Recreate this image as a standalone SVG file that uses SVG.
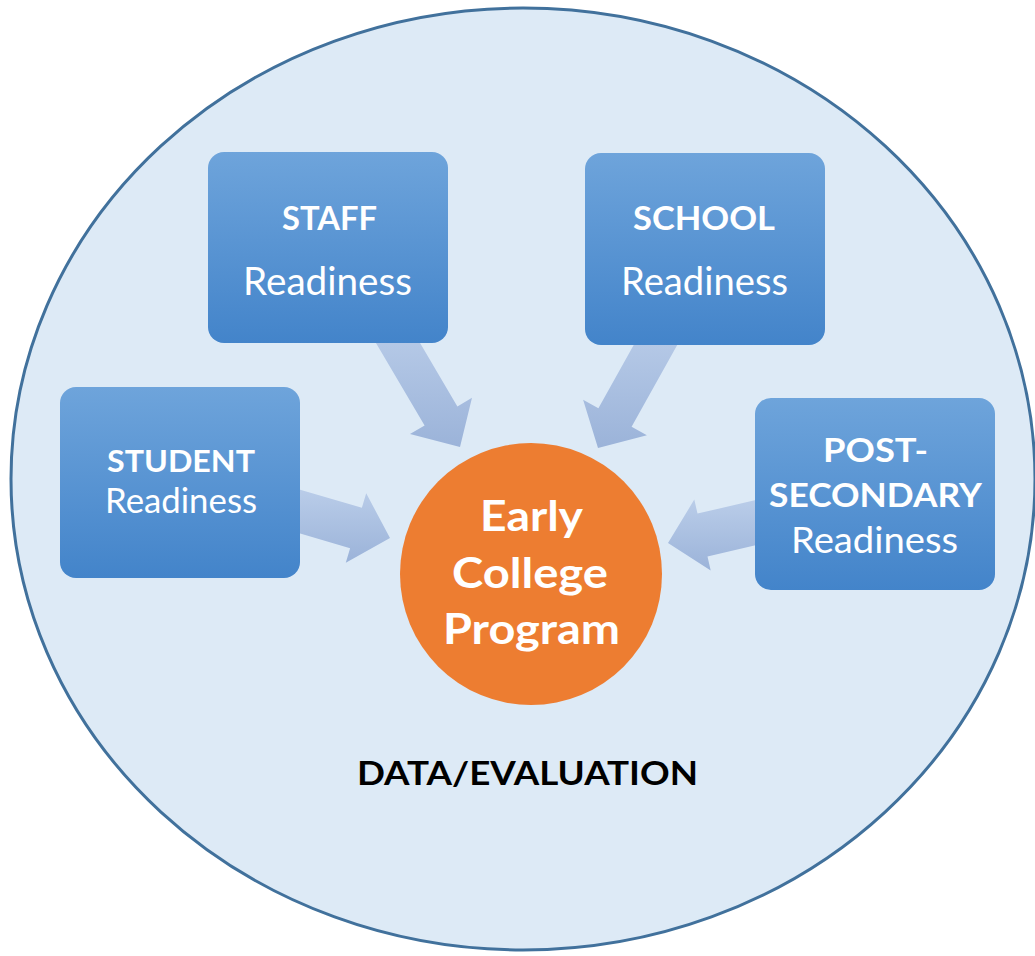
<svg xmlns="http://www.w3.org/2000/svg" width="1035" height="956" viewBox="0 0 1035 956">
<defs>
<linearGradient id="boxg" x1="0" y1="0" x2="0" y2="1">
<stop offset="0" stop-color="#6EA4DB"/>
<stop offset="1" stop-color="#4384CA"/>
</linearGradient>
<linearGradient id="arrg" x1="0" y1="0" x2="0" y2="1">
<stop offset="0" stop-color="#BACDE9"/>
<stop offset="1" stop-color="#9BB3D9"/>
</linearGradient>
<style>
.box{fill:url(#boxg);}
.arr{fill:url(#arrg);}
.t{font-family:Lato,"Liberation Sans",sans-serif;fill:#FFFFFF;text-anchor:middle;}
.b{font-weight:bold;}
</style>
</defs>
<g id="background">
<ellipse cx="523" cy="479" rx="512" ry="471" fill="#DDEAF6" stroke="#41719C" stroke-width="3"/>
</g>
<g id="connectors">
<polygon class="arr" points="373.9,339.4 424.6,425.6 410,434 460,447 472,397.7 457.4,406.4 406.7,320.2"/>
<polygon class="arr" points="647.1,320.9 598.4,408.2 583.1,399.7 598,448 646.9,435.3 631.6,426.8 680.3,339.5"/>
<polygon class="arr" points="295.9,488.4 361.9,507.8 366.2,493.3 390,538 345.8,562.7 350.1,548.2 284.1,528.8"/>
<polygon class="arr" points="760,499.1 697.5,513.6 694.3,499.6 668,543 710.7,570.4 707.5,556.4 770,541.9"/>
</g>
<g id="staff">
<rect class="box" x="208" y="152" width="240" height="191" rx="16"/>
<text class="t b" x="329.5" y="230" font-size="33" textLength="95" lengthAdjust="spacingAndGlyphs">STAFF</text>
<text class="t" x="327.5" y="295" font-size="38" textLength="169" lengthAdjust="spacingAndGlyphs">Readiness</text>
</g>
<g id="school">
<rect class="box" x="585" y="153" width="240" height="192" rx="16"/>
<text class="t b" x="704" y="230" font-size="33" textLength="142" lengthAdjust="spacingAndGlyphs">SCHOOL</text>
<text class="t" x="704.5" y="295" font-size="38" textLength="167" lengthAdjust="spacingAndGlyphs">Readiness</text>
</g>
<g id="student">
<rect class="box" x="60" y="387" width="240" height="191" rx="16"/>
<text class="t b" x="181" y="472" font-size="31" textLength="148" lengthAdjust="spacingAndGlyphs">STUDENT</text>
<text class="t" x="181" y="513" font-size="35" textLength="152" lengthAdjust="spacingAndGlyphs">Readiness</text>
</g>
<g id="postsecondary">
<rect class="box" x="755" y="398" width="240" height="192" rx="16"/>
<text class="t b" x="875.5" y="462" font-size="33" textLength="105" lengthAdjust="spacingAndGlyphs">POST-</text>
<text class="t b" x="875.5" y="507" font-size="33" textLength="213" lengthAdjust="spacingAndGlyphs">SECONDARY</text>
<text class="t" x="874.5" y="553" font-size="36" textLength="167" lengthAdjust="spacingAndGlyphs">Readiness</text>
</g>
<g id="program">
<circle cx="531" cy="574" r="131" fill="#ED7D31"/>
<text class="t b" x="531.5" y="531" font-size="42" textLength="103" lengthAdjust="spacingAndGlyphs">Early</text>
<text class="t b" x="530" y="588" font-size="42" textLength="156" lengthAdjust="spacingAndGlyphs">College</text>
<text class="t b" x="531.5" y="644" font-size="42" textLength="177" lengthAdjust="spacingAndGlyphs">Program</text>
</g>
<g id="label">
<text x="527.5" y="785" font-family="Lato,'Liberation Sans',sans-serif" font-weight="bold" font-size="33" fill="#000000" text-anchor="middle" textLength="341" lengthAdjust="spacingAndGlyphs">DATA/EVALUATION</text>
</g>
</svg>
